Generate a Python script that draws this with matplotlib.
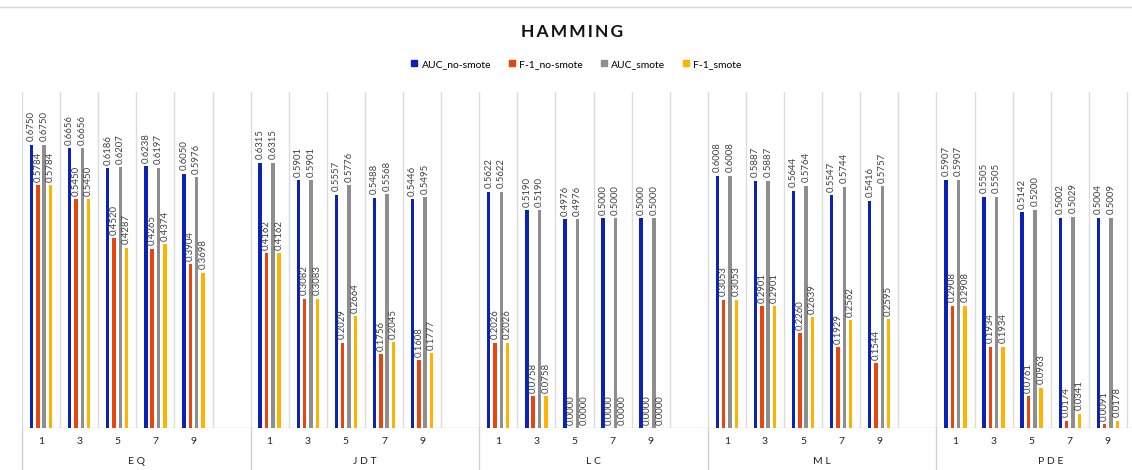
import matplotlib.pyplot as plt
from matplotlib.lines import Line2D
import numpy as np

plt.rcParams['font.family'] = ['Lato', 'DejaVu Sans']

# datasets and k values
groups = ["EQ", "JDT", "LC", "ML", "PDE"]
ks = ["1", "3", "5", "7", "9"]
series_names = ["AUC_no-smote", "F-1_no-smote", "AUC_smote", "F-1_smote"]
colors = ["#0a22b8", "#e8460e", "#8e8e8e", "#ffb300"]

# one list per series, 5 groups x 5 k values
auc_no_smote = [0.6750, 0.6656, 0.6186, 0.6238, 0.6050,
                0.6315, 0.5901, 0.5557, 0.5488, 0.5446,
                0.5622, 0.5190, 0.4976, 0.5000, 0.5000,
                0.6008, 0.5887, 0.5644, 0.5547, 0.5416,
                0.5907, 0.5505, 0.5142, 0.5002, 0.5004]
f1_no_smote = [0.5784, 0.5450, 0.4520, 0.4265, 0.3904,
               0.4162, 0.3082, 0.2029, 0.1756, 0.1608,
               0.2026, 0.0758, 0.0000, 0.0000, 0.0000,
               0.3053, 0.2901, 0.2260, 0.1929, 0.1544,
               0.2908, 0.1934, 0.0761, 0.0174, 0.0091]
auc_smote = [0.6750, 0.6656, 0.6207, 0.6197, 0.5976,
             0.6315, 0.5901, 0.5776, 0.5568, 0.5495,
             0.5622, 0.5190, 0.4976, 0.5000, 0.5000,
             0.6008, 0.5887, 0.5764, 0.5744, 0.5757,
             0.5907, 0.5505, 0.5200, 0.5029, 0.5009]
f1_smote = [0.5784, 0.5450, 0.4287, 0.4374, 0.3698,
            0.4162, 0.3083, 0.2664, 0.2045, 0.1777,
            0.2026, 0.0758, 0.0000, 0.0000, 0.0000,
            0.3053, 0.2901, 0.2639, 0.2562, 0.2595,
            0.2908, 0.1934, 0.0963, 0.0341, 0.0178]
series = [auc_no_smote, f1_no_smote, auc_smote, f1_smote]

W, H = 1132, 470
fig = plt.figure(figsize=(W / 100, H / 100), dpi=100)
# plot area runs past the right edge, 6 slots per group (last one empty)
ax = fig.add_axes([22 / W, 42 / H, 1143 / W, 336 / H])

slots = 6
n_slots = slots * len(groups)
centers = []
for g in range(len(groups)):
    for i in range(len(ks)):
        centers.append(g * slots + i + 0.5)
centers = np.array(centers)

step = 0.166
width = 0.09
for j, (vals, c) in enumerate(zip(series, colors)):
    xs = centers + (j - 1.5) * step
    ax.bar(xs, vals, width=width, color=c, zorder=2)
    for x, v in zip(xs, vals):
        ax.annotate(f"{v:.4f}", (x, v), xytext=(0, 2.5), textcoords="offset points",
                    rotation=90, ha="center", va="bottom", fontsize=6.9,
                    color="#404040", zorder=3)

ax.set_xlim(0, n_slots)
ax.set_ylim(0, 0.8)
ax.set_xticks([])
ax.set_yticks([])
for s in ax.spines.values():
    s.set_visible(False)

# light vertical grid between slots and the base line
for x in range(n_slots + 1):
    ax.axvline(x, color="#dcdcdc", lw=1, zorder=1)
ax.axhline(0, color="#d0d0d0", lw=1, zorder=1)

# group separators carried down through the label area
for g in range(len(groups) + 1):
    ax.plot([g * slots, g * slots], [0, -42 / 336], transform=ax.get_xaxis_transform(),
            color="#d0d0d0", lw=1, clip_on=False)

for x, k in zip(centers, ks * len(groups)):
    ax.text(x, -14 / 336, k, transform=ax.get_xaxis_transform(), ha="center",
            va="center", fontsize=7.5, color="#222222")
for g, name in enumerate(groups):
    ax.text(g * slots + slots / 2, -34 / 336, " ".join(name),
            transform=ax.get_xaxis_transform(), ha="center", va="center",
            fontsize=7.5, color="#222222")

# chart border along the top
fig.add_artist(Line2D([0, 1], [1 - 7 / H, 1 - 7 / H], color="#d9d9d9", lw=1))

fig.text(572 / W, 1 - 32 / H, "\u2009".join("HAMMING"), ha="center", va="center",
         fontsize=12.5, fontweight="bold", color="#111111")

handles = [Line2D([], [], marker="s", ls="", color=c, markersize=5) for c in colors]
fig.legend(handles, series_names, loc="center", bbox_to_anchor=(576 / W, 1 - 64 / H),
           ncol=4, frameon=False, fontsize=7.5, handlelength=0.8, handletextpad=0.3,
           columnspacing=1.6)

fig.savefig("out.png", dpi=100)
